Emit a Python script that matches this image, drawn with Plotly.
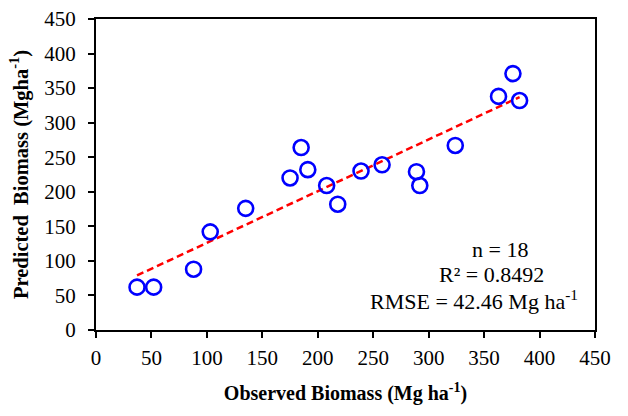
import numpy as np
import plotly.graph_objects as go

observed = [37, 52, 88, 103, 135, 175, 185, 191, 208, 218, 239, 258, 289, 292, 324, 363, 376, 382]
predicted = [62, 62, 88, 142, 176, 220, 264, 232, 209, 182, 230, 239, 229, 209, 267, 338, 371, 332]
axis_ticks = [0, 50, 100, 150, 200, 250, 300, 350, 400, 450]
stats_lines = ["n = 18", "R² = 0.8492", "RMSE = 42.46 Mg ha<sup>-1</sup>"]

slope, intercept = np.polyfit(observed, predicted, 1)
fx = [min(observed), max(observed)]
fy = [slope * v + intercept for v in fx]

FONT = "Liberation Serif"

fig = go.Figure()
fig.add_trace(go.Scatter(
    x=fx, y=fy, mode="lines",
    line=dict(color="#ff0000", width=2.5, dash="7px,4px"),
    showlegend=False, hoverinfo="skip"))
fig.add_trace(go.Scatter(
    x=observed, y=predicted, mode="markers",
    marker=dict(symbol="circle-open", size=15, color="#0000ff", line=dict(width=2.6, color="#0000ff")),
    showlegend=False))

axis_common = dict(
    range=[0, 450], tickvals=axis_ticks, ticktext=[str(t) for t in axis_ticks],
    showgrid=False, zeroline=False, showline=True, linecolor="black", linewidth=2,
    mirror=True, ticks="outside", ticklen=6, tickwidth=2, tickcolor="black",
    tickfont=dict(family=FONT, size=21, color="black"), automargin=False,
)
fig.update_xaxes(**axis_common, ticklabelstandoff=2,
                 title=dict(text="<b>Observed Biomass (Mg ha<sup>-1</sup>)</b>",
                            font=dict(family=FONT, size=20, color="black"), standoff=17))
fig.update_yaxes(**axis_common, ticklabelstandoff=8,
                 title=dict(text="<b>Predicted  Biomass (Mgha<sup>-1</sup>)</b>",
                            font=dict(family=FONT, size=20.5, color="black"), standoff=10))

# positions of the three stat lines (data coordinates)
stat_x = [364, 357, 341]
stat_y = [116, 80, 43]
for t, xv, yv in zip(stats_lines, stat_x, stat_y):
    fig.add_annotation(x=xv, y=yv, xref="x", yref="y", text=t, showarrow=False,
                       font=dict(family=FONT, size=22, color="black"))

fig.update_layout(
    width=628, height=416,
    margin=dict(l=96, r=33, t=19, b=86),
    plot_bgcolor="white", paper_bgcolor="white",
)
fig.write_html("out.html")
